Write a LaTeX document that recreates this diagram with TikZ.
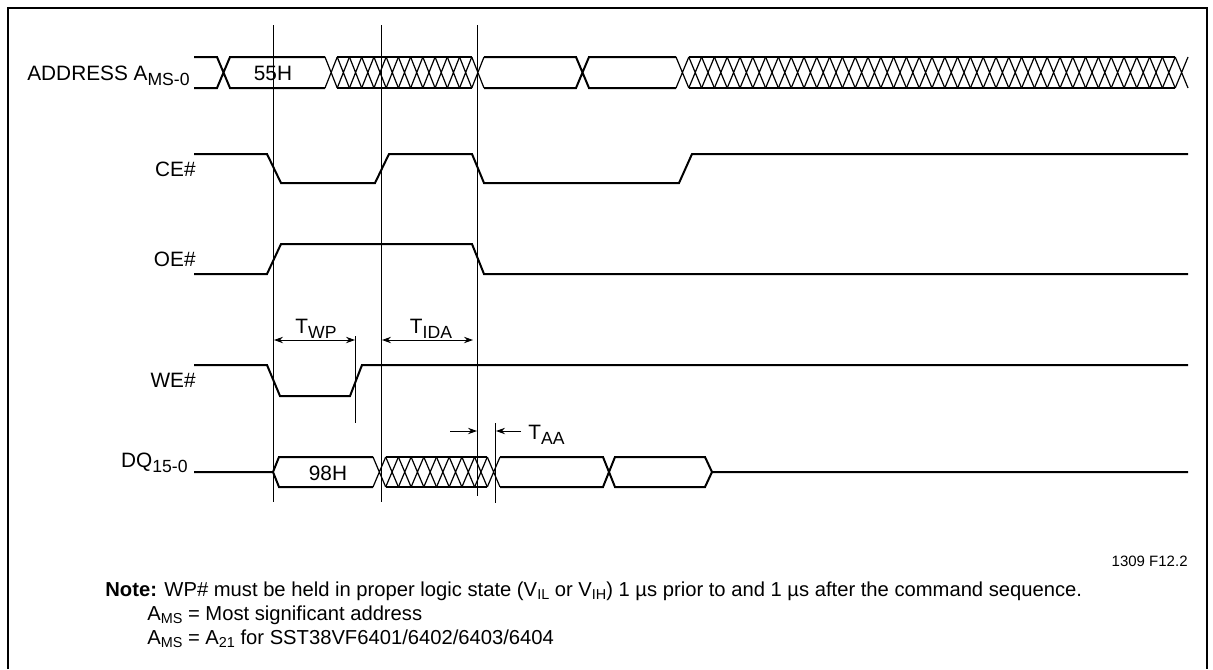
\documentclass[tikz,border=0pt]{standalone}
\usepackage{fontspec}
\setmainfont{Liberation Sans}
\usetikzlibrary{arrows.meta}
\usetikzlibrary{positioning}
\newcommand{\dn}[1]{\raisebox{-2.8pt}{\fontsize{8.8}{9}\selectfont #1}}
\newcommand{\sdn}[1]{\raisebox{-1.6pt}{\fontsize{7.2}{8}\selectfont #1}}
% hatched (don't care) bus: x1, x2, number of X, top y, bottom y
\newcommand{\xhatch}[5]{%
  \pgfmathsetmacro{\hw}{(#2-#1)/#3}
  \draw[sig] ({#1+\hw},#4) -- ({#2-\hw},#4) ({#1+\hw},#5) -- ({#2-\hw},#5);
  \foreach \k in {1,...,#3}{
    \draw[hatchline] ({#1+(\k-1)*\hw},#4) -- ({#1+\k*\hw},#5)
                     ({#1+(\k-1)*\hw},#5) -- ({#1+\k*\hw},#4);
  }}
\tikzset{
  sig/.style={line width=1pt,line join=miter},
  hatchline/.style={line width=0.6pt},
  marker/.style={line width=0.5pt},
  lbl/.style={font=\fontsize{10.4}{12}\selectfont,inner sep=0pt},
  notetext/.style={font=\fontsize{10.1}{12}\selectfont,inner sep=0pt},
  dimarrow/.style={line width=0.5pt,{Stealth[length=4.5pt,width=3.2pt]}-{Stealth[length=4.5pt,width=3.2pt]}},
}

\begin{document}
\begin{tikzpicture}[x=0.5pt,y=-0.5pt]
            \useasboundingbox (0,0) rectangle (1213,669);
            % frame
            \draw[line width=1.3pt] (8,669) -- (8,8) -- (1207,8) -- (1207,669);

            % signal names
            \node[lbl,anchor=base east] (addr) at (190,80) {ADDRESS A\dn{MS-0}};
            \node[lbl,anchor=base east] (ce) at (196,176) {CE\#};
            \node[lbl,anchor=base east] (oe) at (196,266) {OE\#};
            \node[lbl,anchor=base east] (we) at (196,387) {WE\#};
            \node[lbl,anchor=base east] (dq) at (188,467) {DQ\dn{15-0}};

            % ADDRESS
            \draw[sig] (194,57) -- (217,57) -- (230,88) -- (325,88)
                       (194,88) -- (217,88) -- (230,57) -- (325,57);
            \xhatch{325}{484}{13}{57}{88}
            \draw[sig] (484,57) -- (576,57) -- (589,88) -- (676,88)
                       (484,88) -- (576,88) -- (589,57) -- (676,57);
            \xhatch{676}{1188}{40}{57}{88}
            \node[lbl] (a55) at (273,73) {55H};

            % CE#
            \draw[sig] (194,154) -- (267,154) -- (281,183) -- (375,183) -- (389,154)
                       -- (472,154) -- (484,183) -- (679,183) -- (692,154) -- (1188,154);
            % OE#
            \draw[sig] (194,274) -- (267,274) -- (281,244) -- (472,244) -- (484,274) -- (1188,274);
            % WE#
            \draw[sig] (194,365) -- (267,365) -- (280,396) -- (350,396) -- (362,365) -- (1188,365);

            % DQ
            \draw[sig] (194,472) -- (273,472) -- (279,457) -- (373,457)
                       (273,472) -- (279,487) -- (373,487);
            \xhatch{373}{500}{10}{457}{487}
            \draw[sig] (500,457) -- (603,457) -- (615,487) -- (705,487) -- (712,472) -- (1188,472)
                       (500,487) -- (603,487) -- (615,457) -- (705,457) -- (712,472);
            \node[lbl] (d98) at (328,473) {98H};

            % timing markers
            \coordinate (m1t) at (273.5,25);  \coordinate (m1b) at (273.5,502);
            \coordinate (m2t) at (381.5,25);  \coordinate (m2b) at (381.5,502);
            \coordinate (m3t) at (477.5,25);  \coordinate (m3b) at (477.5,496);
            \coordinate (m4t) at (355.5,336); \coordinate (m4b) at (355.5,423);
            \coordinate (m5t) at (495.5,423); \coordinate (m5b) at (495.5,503);
            \foreach \m in {m1,m2,m3,m4,m5}
              \draw[marker] (\m t) -- (\m b);

            % T_WP, T_IDA
            \coordinate (wpl) at (274,340);  \coordinate (wpr) at (355,340);
            \coordinate (idl) at (382,340);  \coordinate (idr) at (473,340);
            \draw[dimarrow] (wpl) -- (wpr);
            \draw[dimarrow] (idl) -- (idr);
            \node[lbl,anchor=base] (twp) at (316,333) {T\dn{WP}};
            \node[lbl,anchor=base] (tida) at (431,333) {T\dn{IDA}};

            % T_AA
            \coordinate (aal) at (450,431);  \coordinate (aar) at (477,431);
            \coordinate (abl) at (521,431);  \coordinate (abr) at (496,431);
            \draw[marker,-{Stealth[length=4.5pt,width=3.2pt]}] (aal) -- (aar);
            \draw[marker,-{Stealth[length=4.5pt,width=3.2pt]}] (abl) -- (abr);
            \node[lbl,anchor=base west] (taa) at (528,439) {T\dn{AA}};

            % figure number and notes
            \node[lbl,font=\fontsize{7.5}{9}\selectfont,anchor=base east] (fig) at (1188,566) {1309 F12.2};
            \node[notetext,anchor=base west] (note1) at (105,596)
              {\textbf{Note:} WP\# must be held in proper logic state (V\sdn{IL} or V\sdn{IH}) 1 µs prior to and 1 µs after the command sequence.};
            \node[notetext,anchor=base west] (note2) at (147,620) {A\sdn{MS} = Most significant address};
            \node[notetext,anchor=base west] (note3) at (147,644) {A\sdn{MS} = A\sdn{21} for SST38VF6401/6402/6403/6404};
          \end{tikzpicture}
\end{document}
